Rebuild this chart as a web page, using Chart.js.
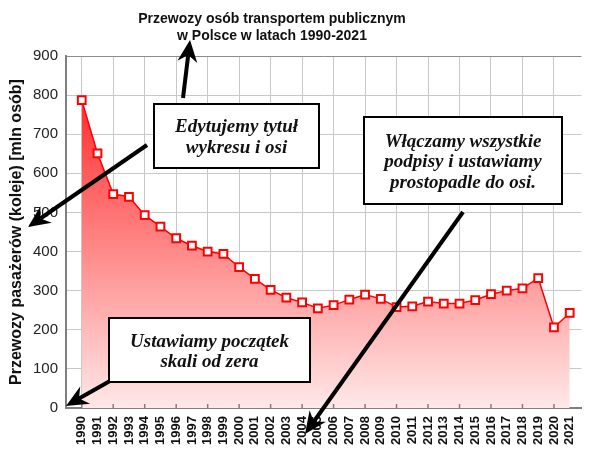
<!DOCTYPE html>
<html><head><meta charset="utf-8">
<script src="https://cdn.jsdelivr.net/npm/chart.js@4"></script>
<style>html,body{margin:0;padding:0;background:#fff;overflow:hidden}#wrap{width:589px;height:450px;position:relative}</style>
</head><body><div id="wrap"><canvas id="c" width="589" height="450"></canvas></div>
<script>
const years = [1990,1991,1992,1993,1994,1995,1996,1997,1998,1999,2000,2001,2002,2003,2004,2005,2006,2007,2008,2009,2010,2011,2012,2013,2014,2015,2016,2017,2018,2019,2020,2021];
const passengers = [787,651,547,540,493,464,434,415,400,394,360,330,302,282,270,255,263,277,290,279,258,260,272,267,267,276,291,300,306,332,206,243];
const yTicks = [0,100,200,300,400,500,600,700,800,900];
const titleLines = ['Przewozy osób transportem publicznym','w Polsce w latach 1990-2021'];
const yTitle = 'Przewozy pasażerów (koleje) [mln osób]';
const note1 = ['Edytujemy tytuł','wykresu i osi'];
const note2 = ['Włączamy wszystkie','podpisy i ustawiamy','prostopadle do osi.'];
const note3 = ['Ustawiamy początek','skali od zera'];

const SANS = "'Liberation Sans', Arial, sans-serif";
const SERIF = "'Liberation Serif', 'Times New Roman', serif";

function arrow(ctx, x1, y1, x2, y2) {
  const ang = Math.atan2(y2 - y1, x2 - x1);
  const L = 22, W = 10, N = 7;
  const bx = x2 - L * Math.cos(ang), by = y2 - L * Math.sin(ang);
  const nx = x2 - (L - N) * Math.cos(ang), ny = y2 - (L - N) * Math.sin(ang);
  ctx.save();
  ctx.strokeStyle = '#000'; ctx.fillStyle = '#000'; ctx.lineWidth = 4; ctx.lineCap = 'butt';
  ctx.beginPath(); ctx.moveTo(x1, y1); ctx.lineTo(nx, ny); ctx.stroke();
  const px = -Math.sin(ang), py = Math.cos(ang);
  ctx.beginPath();
  ctx.moveTo(x2, y2);
  ctx.lineTo(bx + px * W, by + py * W);
  ctx.lineTo(nx, ny);
  ctx.lineTo(bx - px * W, by - py * W);
  ctx.closePath(); ctx.fill();
  ctx.restore();
}
function box(ctx, x, y, w, h, lines, centers) {
  ctx.save();
  ctx.fillStyle = '#fff'; ctx.fillRect(x, y, w, h);
  ctx.strokeStyle = '#000'; ctx.lineWidth = 2; ctx.strokeRect(x, y, w, h);
  ctx.fillStyle = '#111'; ctx.font = 'italic bold 19px ' + SERIF;
  ctx.textAlign = 'center'; ctx.textBaseline = 'middle';
  lines.forEach((t, i) => ctx.fillText(t, x + w / 2, centers[i]));
  ctx.restore();
}

const overlay = {
  id: 'overlay',
  afterDatasetsDraw(chart) {
    const ctx = chart.ctx, xs = chart.scales.x, a = chart.chartArea;
    ctx.save();
    ctx.strokeStyle = '#7f7f7f'; ctx.lineWidth = 1.5;
    years.filter(v => v % 2 === 0).forEach(v => {
      const px = xs.getPixelForValue(v);
      ctx.beginPath(); ctx.moveTo(px, a.bottom); ctx.lineTo(px, a.bottom - 4); ctx.stroke();
    });
    ctx.restore();
  },
  afterDraw(chart) {
    const ctx = chart.ctx;
    ctx.save();
    ctx.fillStyle = '#111'; ctx.font = 'bold 14px ' + SANS;
    ctx.textAlign = 'center'; ctx.textBaseline = 'alphabetic';
    ctx.fillText(titleLines[0], 272, 23);
    ctx.fillText(titleLines[1], 272, 40);
    ctx.restore();
    box(ctx, 154, 104, 165, 64, note1, [127, 148]);
    box(ctx, 364, 117, 198, 87, note2, [142, 162, 183]);
    box(ctx, 109, 318, 201, 64, note3, [342, 362]);
    arrow(ctx, 183, 98, 190, 40);
    arrow(ctx, 147, 145, 28, 227);
    arrow(ctx, 110, 381, 66, 406);
    arrow(ctx, 463, 212, 305, 434);
  }
};

new Chart(document.getElementById('c'), {
  type: 'line',
  data: {
    datasets: [{
      data: years.map((y, i) => ({x: y, y: passengers[i]})),
      borderColor: '#ff0000',
      borderWidth: 1.5,
      tension: 0,
      fill: 'origin',
      backgroundColor: (c) => {
        const a = c.chart.chartArea;
        if (!a) return 'rgba(255,100,100,0.6)';
        const g = c.chart.ctx.createLinearGradient(0, a.top, 0, a.bottom);
        g.addColorStop(0, 'rgb(255,20,20)');
        g.addColorStop(1, 'rgb(255,232,232)');
        return g;
      },
      pointStyle: 'rect',
      pointRadius: 5.5,
      pointBackgroundColor: '#ffffff',
      pointBorderColor: '#ff0000',
      pointBorderWidth: 2
    }]
  },
  options: {
    responsive: false,
    animation: false,
    devicePixelRatio: 1,
    layout: {padding: {top: 56, left: 0, right: 0, bottom: 0}},
    plugins: {legend: {display: false}, tooltip: {enabled: false}, title: {display: false}},
    scales: {
      x: {
        type: 'linear', min: 1989, max: 2021.75,
        afterBuildTicks: s => { s.ticks = years.map(v => ({value: v})); },
        afterFit: s => { s.height = 42; s.paddingLeft = 0; s.paddingRight = 0; },
        ticks: {autoSkip: false, minRotation: 90, maxRotation: 90, padding: 8, color: '#111',
          font: {family: SANS, size: 13, weight: 'bold'}, callback: v => String(v)},
        grid: {drawTicks: false, lineWidth: 1,
          color: c => (c.tick && c.tick.value % 2 === 0) ? '#c8c8c8' : 'rgba(0,0,0,0)'},
        border: {color: '#7f7f7f', width: 2}
      },
      y: {
        min: 0, max: 900,
        afterBuildTicks: s => { s.ticks = yTicks.map(v => ({value: v})); },
        afterFit: s => { s.width = 66; },
        ticks: {padding: 8, color: '#222', font: {family: SANS, size: 15}},
        grid: {drawTicks: false, lineWidth: 1,
          color: c => (c.tick && c.tick.value === 900) ? '#8c8c8c' : '#c8c8c8'},
        border: {color: '#7f7f7f', width: 2},
        title: {display: true, text: yTitle, color: '#111', padding: {top: 7, bottom: 0},
          font: {family: SANS, size: 16, weight: 'bold'}}
      }
    }
  },
  plugins: [overlay]
});
</script></body></html>
